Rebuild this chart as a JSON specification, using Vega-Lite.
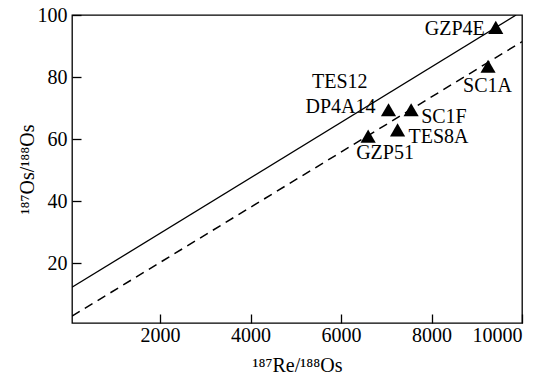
{
  "$schema": "https://vega.github.io/schema/vega-lite/v6.json",
  "autosize": "none",
  "width": 450,
  "height": 308,
  "padding": {"left": 72, "top": 15, "right": 30, "bottom": 55},
  "background": "white",
  "config": {
    "view": {"stroke": "black", "strokeWidth": 1.3},
    "font": "Liberation Serif, Times New Roman, serif",
    "text": {"font": "Liberation Serif, Times New Roman, serif"},
    "axis": {
      "grid": false,
      "domain": false,
      "tickColor": "black",
      "tickWidth": 1.3,
      "tickSize": -9,
      "labelColor": "black",
      "labelFont": "Liberation Serif, Times New Roman, serif",
      "labelFontSize": 20,
      "titleFont": "Liberation Serif, Times New Roman, serif",
      "titleFontSize": 20,
      "titleFontWeight": "normal",
      "titleColor": "black"
    }
  },
  "datasets": {
    "pts": [
      {"name": "GZP4E", "re": 9420, "os": 96},
      {"name": "SC1A", "re": 9250, "os": 83.5},
      {"name": "DP4A14", "re": 7050, "os": 69.5},
      {"name": "SC1F", "re": 7550, "os": 69.5},
      {"name": "TES8A", "re": 7250, "os": 63},
      {"name": "GZP51", "re": 6600, "os": 61}
    ],
    "lines": [
      {"line": "solid", "re": 55, "os": 12.3},
      {"line": "solid", "re": 9870, "os": 100},
      {"line": "dashed", "re": 55, "os": 3},
      {"line": "dashed", "re": 10000, "os": 91.4}
    ]
  },
  "encoding": {
    "x": {"field": "re", "type": "quantitative", "scale": {"domain": [55, 10000], "nice": false, "zero": false},
      "axis": {"values": [2000, 4000, 6000, 8000, 10000], "format": "d", "title": "¹⁸⁷Re/¹⁸⁸Os", "labelPadding": 11, "titlePadding": 10}},
    "y": {"field": "os", "type": "quantitative", "scale": {"domain": [0.8, 100], "nice": false, "zero": false},
      "axis": {"values": [20, 40, 60, 80, 100], "format": "d", "title": "¹⁸⁷Os/¹⁸⁸Os", "labelPadding": 14, "titlePadding": 0}}
  },
  "layer": [
    {"data": {"name": "lines"}, "transform": [{"filter": "datum.line === 'solid'"}],
      "mark": {"type": "line", "color": "black", "strokeWidth": 1.3, "clip": true}},
    {"data": {"name": "lines"}, "transform": [{"filter": "datum.line === 'dashed'"}],
      "mark": {"type": "line", "color": "black", "strokeWidth": 1.5, "strokeDash": [9, 6], "clip": true}},
    {"data": {"name": "pts"},
      "mark": {"type": "point", "shape": "triangle-up", "filled": true, "color": "black", "opacity": 1, "size": 230}},
    {"data": {"name": "pts"}, "transform": [{"filter": "datum.name === 'GZP4E'"}],
      "mark": {"type": "text", "align": "right", "baseline": "middle", "dx": -11, "dy": 2, "fontSize": 20, "color": "black"},
      "encoding": {"text": {"field": "name"}}},
    {"data": {"name": "pts"}, "transform": [{"filter": "datum.name === 'DP4A14'"}],
      "mark": {"type": "text", "align": "right", "baseline": "middle", "dx": -21, "dy": -28, "fontSize": 20, "color": "black", "text": "TES12"}},
    {"data": {"name": "pts"}, "transform": [{"filter": "datum.name === 'DP4A14'"}],
      "mark": {"type": "text", "align": "right", "baseline": "middle", "dx": -13, "dy": -3, "fontSize": 20, "color": "black"},
      "encoding": {"text": {"field": "name"}}},
    {"data": {"name": "pts"}, "transform": [{"filter": "datum.name === 'SC1F'"}],
      "mark": {"type": "text", "align": "left", "baseline": "middle", "dx": 10, "dy": 7, "fontSize": 20, "color": "black"},
      "encoding": {"text": {"field": "name"}}},
    {"data": {"name": "pts"}, "transform": [{"filter": "datum.name === 'TES8A'"}],
      "mark": {"type": "text", "align": "left", "baseline": "middle", "dx": 11, "dy": 7, "fontSize": 20, "color": "black"},
      "encoding": {"text": {"field": "name"}}},
    {"data": {"name": "pts"}, "transform": [{"filter": "datum.name === 'GZP51'"}],
      "mark": {"type": "text", "align": "left", "baseline": "middle", "dx": -12, "dy": 17, "fontSize": 20, "color": "black"},
      "encoding": {"text": {"field": "name"}}},
    {"data": {"name": "pts"}, "transform": [{"filter": "datum.name === 'SC1A'"}],
      "mark": {"type": "text", "align": "left", "baseline": "middle", "dx": -25, "dy": 20, "fontSize": 20, "color": "black"},
      "encoding": {"text": {"field": "name"}}}
  ]
}
